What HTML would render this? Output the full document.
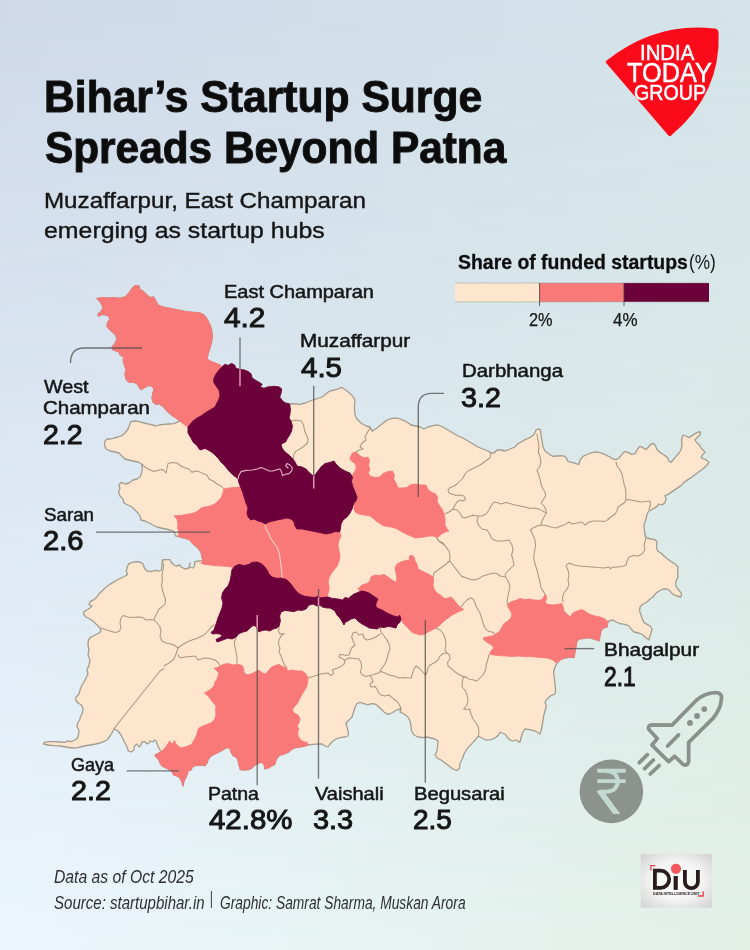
<!DOCTYPE html>
<html lang="en">
<head>
<meta charset="utf-8">
<title>Bihar's Startup Surge Spreads Beyond Patna</title>
<style>
html,body{margin:0;padding:0;}
body{width:750px;height:950px;overflow:hidden;font-family:"Liberation Sans",sans-serif;color:#161616;}
#page{position:relative;width:750px;height:950px;overflow:hidden;background:linear-gradient(to right,#cfd9ea,#d4e4e9);}
#bg2{position:absolute;left:0;top:0;width:750px;height:950px;background:linear-gradient(to right,#ebf6fd,#e2f0e6);
 -webkit-mask-image:linear-gradient(to bottom,rgba(0,0,0,0),rgba(0,0,0,1));mask-image:linear-gradient(to bottom,rgba(0,0,0,0),rgba(0,0,0,1));}
#art{position:absolute;left:0;top:0;width:750px;height:950px;}
.t{position:absolute;white-space:nowrap;line-height:1;transform-origin:0 0;margin:0;padding:0;}
.b{font-weight:bold;color:#0c0c0c;}
.r{font-weight:normal;}
.i{font-style:italic;color:#303030;}
</style>
</head>
<body>
<div id="page">
<div id="bg2"></div>
<svg id="art" width="750" height="950" viewBox="0 0 750 950">
<g id="map" stroke-linejoin="round" stroke-linecap="round">
<path d="M97.0,298.4 102.0,297.6 108.0,298.0 114.0,297.6 120.0,298.4 125.0,297.0 129.0,293.0 132.0,288.4 135.0,285.6 139.0,286.0 140.0,289.6 143.6,291.6 147.0,295.0 150.0,297.6 153.6,297.0 156.0,301.0 158.0,305.0 163.0,307.0 170.0,308.4 178.0,310.0 186.0,311.6 194.0,312.4 200.0,313.0 204.0,315.0 207.0,319.0 209.6,324.0 211.6,330.0 212.4,336.0 211.6,342.0 210.0,348.0 208.0,354.0 207.0,359.0 210.0,361.0 215.0,363.0 220.0,365.0 222.0,367.0 225.0,364.4 228.0,365.6 231.6,363.6 234.4,365.0 236.0,368.4 240.0,369.6 244.0,370.0 248.0,371.6 251.0,374.0 252.0,378.0 255.0,380.0 259.0,382.4 262.0,384.4 260.0,387.0 264.0,388.4 268.0,387.0 274.0,386.4 279.0,387.0 281.6,389.0 281.0,393.0 279.6,397.0 282.0,400.4 285.0,403.0 289.6,404.0 294.0,403.6 300.0,404.4 305.0,403.0 310.0,401.0 316.0,399.0 322.0,397.0 327.0,393.0 330.0,391.0 336.7,389.3 341.7,387.3 346.7,390.7 351.7,395.0 355.0,400.0 354.4,408.0 355.0,415.0 357.0,419.0 361.0,423.0 366.0,426.0 370.0,427.0 372.4,431.0 377.0,428.0 382.0,424.0 387.0,420.0 392.4,418.4 397.0,418.0 402.0,419.6 407.0,422.0 411.0,425.0 416.0,426.0 420.0,427.0 424.0,429.0 428.0,427.0 433.0,425.6 438.0,425.0 443.0,427.0 448.0,430.0 453.0,433.0 458.0,436.0 463.0,438.0 468.0,441.0 473.0,444.0 478.0,447.0 483.0,449.0 488.0,451.0 491.0,453.0 494.0,453.0 497.0,450.0 501.0,450.0 505.0,451.0 510.0,449.0 515.0,447.0 517.0,444.4 521.0,442.0 525.0,439.6 530.0,437.6 534.0,434.4 536.0,430.0 538.0,429.0 540.4,429.6 541.0,435.0 542.0,441.0 543.0,447.0 545.0,451.0 549.0,454.0 553.0,456.4 557.0,456.0 561.0,455.6 565.0,456.4 567.0,459.0 568.0,461.6 572.0,462.4 576.0,463.6 579.0,464.4 580.0,460.0 583.0,456.4 588.0,454.0 593.0,452.4 598.0,452.0 603.0,453.6 607.0,455.6 610.0,457.0 613.0,459.0 616.0,459.6 619.0,458.0 622.0,454.4 624.4,451.6 628.0,452.4 631.6,454.4 635.0,453.6 637.6,449.0 640.0,446.4 643.0,447.6 646.0,449.6 648.4,447.0 651.0,444.0 654.0,443.6 655.6,446.0 657.0,449.6 660.0,452.4 664.0,455.0 667.6,457.6 669.0,461.0 671.0,462.4 673.0,460.0 676.0,456.4 679.0,453.0 681.0,450.0 682.0,445.0 681.6,439.0 683.0,435.0 686.0,436.0 689.0,437.6 692.0,435.6 695.0,433.6 698.0,432.0 700.4,432.0 700.0,435.0 697.0,437.6 695.0,440.0 697.0,443.0 699.6,445.0 701.0,448.0 703.0,450.0 705.0,452.4 702.4,455.0 701.0,457.6 704.0,459.0 707.0,460.4 709.0,462.4 707.0,465.0 704.0,468.0 700.0,471.0 696.0,474.0 692.0,477.0 688.0,479.6 684.0,482.4 681.0,485.6 677.0,488.4 674.0,490.4 671.0,492.4 668.0,494.4 665.0,495.6 666.0,499.0 665.0,502.4 662.0,505.0 659.0,504.0 657.0,506.4 654.0,508.4 651.0,510.0 649.0,511.0 647.0,514.0 646.0,519.0 644.0,525.0 644.4,530.0 645.0,535.0 647.0,538.0 651.0,539.0 655.0,539.6 657.0,542.0 656.4,547.0 657.6,551.0 661.0,553.0 664.0,556.0 667.6,559.0 671.0,561.6 675.0,564.0 678.0,567.0 677.6,572.0 678.0,577.0 676.0,581.0 675.6,585.0 677.0,588.0 679.6,591.0 681.6,593.6 681.0,597.0 677.0,596.0 673.0,594.4 670.0,591.0 667.0,589.0 663.0,589.0 659.0,591.0 655.6,593.6 653.0,597.0 650.0,599.0 647.0,602.0 643.0,604.0 640.0,607.0 639.6,611.0 641.0,615.0 642.4,619.0 644.0,622.4 647.0,624.4 650.0,626.0 652.0,629.0 651.0,633.0 649.6,637.0 649.0,640.0 646.0,638.0 643.0,635.0 639.0,633.0 634.0,632.0 631.0,629.0 629.0,626.0 625.0,624.4 620.0,623.6 616.0,622.0 613.0,620.0 609.0,621.0 608.0,622.0 607.0,627.0 603.0,628.0 601.0,631.0 600.0,636.0 599.0,641.0 594.0,639.0 589.0,637.6 584.0,638.4 579.0,639.0 577.0,641.0 576.0,646.0 575.0,652.0 574.0,657.6 570.0,657.0 565.0,658.0 560.0,660.0 557.0,663.0 555.0,667.0 553.6,672.0 554.4,678.0 555.0,684.0 555.6,690.0 555.0,694.0 551.0,695.6 547.0,699.0 545.0,702.0 546.4,706.0 545.0,711.0 543.6,716.0 543.0,721.0 542.0,726.0 541.0,731.0 540.0,734.0 537.0,732.0 533.0,730.4 529.0,729.6 525.0,729.0 522.4,733.0 521.0,738.0 520.0,742.4 516.0,740.0 513.0,741.0 510.0,740.0 507.0,737.0 505.0,734.0 502.0,733.0 500.0,732.4 498.0,735.6 495.0,738.0 491.0,739.6 486.0,740.0 482.0,738.0 478.4,736.0 476.0,739.0 473.0,742.4 470.0,745.6 467.0,749.0 464.0,754.0 462.4,759.0 460.0,763.0 459.6,768.0 457.0,770.4 453.0,769.0 449.0,766.0 445.0,763.0 441.0,760.0 437.0,758.0 435.0,755.0 437.0,751.0 437.6,746.0 438.0,741.0 435.0,739.0 431.0,738.0 427.0,737.0 423.0,737.6 418.0,737.0 414.0,735.0 411.6,731.0 411.0,726.0 410.0,721.0 408.0,717.0 404.0,714.0 400.0,712.0 401.0,709.0 398.0,709.6 395.0,711.0 391.6,713.0 388.0,714.4 384.0,712.0 381.0,709.0 378.0,706.0 375.0,704.0 371.0,703.6 368.0,705.0 364.0,703.6 360.0,702.4 357.0,703.6 355.0,707.0 353.6,712.0 352.0,717.0 349.0,720.0 346.0,723.0 347.0,727.0 348.4,732.0 348.0,736.0 345.0,737.0 340.0,737.6 336.0,739.0 333.0,741.0 330.0,744.0 328.0,747.0 325.0,746.0 322.0,744.0 318.0,744.0 313.0,744.4 308.0,745.0 304.0,746.4 299.0,747.0 294.0,748.0 291.0,750.0 288.0,752.4 284.0,754.0 280.0,755.0 278.0,757.0 276.0,760.0 275.0,764.0 272.0,766.0 268.0,768.0 265.0,769.0 264.0,764.0 261.0,762.0 258.0,763.6 255.0,765.0 252.0,768.0 249.0,769.6 244.0,770.0 240.4,769.6 239.0,765.0 238.0,760.0 236.0,757.0 233.0,755.6 231.0,752.0 230.0,748.0 226.0,747.6 223.0,750.0 219.0,752.0 215.0,754.0 211.0,756.0 208.4,759.0 207.0,763.0 205.0,765.6 200.0,765.0 195.0,765.6 192.4,767.0 191.0,770.0 188.0,771.0 187.0,775.0 185.6,778.0 184.0,781.0 183.0,786.0 182.0,782.0 180.0,778.0 177.0,776.0 173.6,775.0 172.4,771.6 170.0,770.0 166.0,768.0 162.0,766.0 160.0,763.0 159.0,760.0 156.0,757.0 155.0,755.0 159.0,753.0 161.0,752.0 160.0,750.0 158.0,746.0 156.0,741.0 154.4,740.0 153.0,742.0 150.0,741.0 149.0,743.0 147.0,744.0 145.0,741.6 142.0,742.0 141.0,745.0 139.0,747.0 137.0,744.0 134.4,746.0 134.0,750.0 131.0,752.0 128.4,751.0 127.0,747.0 125.0,743.0 123.0,739.0 121.0,735.0 118.0,731.0 114.0,729.0 112.4,732.0 110.0,736.0 107.0,740.0 102.0,742.4 96.0,744.0 90.0,745.0 84.0,746.0 78.0,747.6 72.0,748.0 66.0,747.0 60.0,746.0 54.0,745.6 48.0,745.0 43.6,744.0 44.0,742.4 49.0,741.6 54.0,741.6 60.0,742.0 65.0,742.4 67.0,741.0 71.0,741.6 75.0,740.0 77.6,738.0 78.4,735.0 79.0,730.0 77.0,727.0 77.6,723.0 79.6,720.0 80.4,717.0 82.4,713.0 83.0,709.0 81.6,705.0 78.0,703.0 75.6,700.0 76.0,697.0 79.0,694.0 80.0,690.0 81.6,686.0 84.0,682.0 86.0,678.0 88.0,674.0 87.0,670.0 89.0,665.0 90.0,660.0 88.0,655.0 89.0,650.0 88.0,645.0 88.4,640.0 91.0,637.0 95.0,635.0 99.0,633.0 101.0,631.0 100.0,628.0 97.0,625.0 94.0,622.0 90.0,619.0 86.0,617.0 83.6,614.4 84.0,611.6 87.0,610.0 90.0,608.0 92.0,606.0 89.0,605.0 90.0,601.6 94.0,599.6 97.0,597.0 99.0,594.0 102.0,591.0 105.0,588.0 109.0,585.0 113.0,582.4 117.0,580.0 121.0,578.0 125.0,576.0 127.6,574.4 126.4,571.6 127.0,567.0 129.0,563.6 132.4,562.4 136.0,561.6 140.0,562.0 143.0,564.0 144.4,568.0 147.0,571.0 151.0,571.6 155.0,570.4 159.0,571.0 161.6,570.0 162.0,565.0 162.4,560.0 166.0,559.6 170.0,559.6 171.0,562.0 174.0,565.0 176.0,566.0 180.0,565.0 181.0,567.0 185.0,569.0 189.0,568.0 190.0,563.0 189.6,567.0 193.0,568.0 194.4,566.0 195.0,561.6 199.0,561.0 203.0,560.6 202.0,557.0 201.0,552.0 198.0,548.0 193.0,544.0 190.0,540.0 184.0,538.0 180.0,537.0 178.0,536.4 175.6,536.0 174.0,531.6 170.0,530.0 166.0,529.0 161.0,528.0 157.0,527.0 153.0,525.0 149.0,523.0 145.0,521.0 141.0,520.0 140.0,516.0 138.0,513.0 135.0,510.0 132.0,507.0 128.0,505.0 124.0,503.0 123.0,499.0 120.0,496.0 118.4,492.0 120.0,489.0 119.0,485.0 121.0,482.4 125.0,484.0 129.0,483.0 133.0,480.0 137.0,479.0 140.0,477.0 141.6,473.0 142.4,468.0 141.6,464.0 138.0,462.0 133.0,461.0 129.0,460.0 125.0,459.0 122.0,456.0 119.0,453.0 115.0,452.0 110.0,451.0 106.0,449.0 104.4,445.0 105.0,441.0 107.0,439.0 111.0,439.0 114.0,438.0 118.0,437.0 122.0,435.6 125.0,433.0 128.0,429.0 129.6,425.0 131.0,421.6 135.0,421.0 139.0,421.6 144.0,423.0 150.0,424.4 156.0,426.0 159.0,425.0 164.0,424.4 169.0,424.0 174.0,423.6 180.0,421.0 176.0,418.0 172.4,415.6 169.0,413.0 166.0,410.0 163.0,406.4 159.0,403.6 156.0,404.4 153.0,402.0 152.0,397.6 153.0,393.0 154.0,389.0 152.0,386.0 148.0,385.6 144.0,388.0 141.0,389.6 139.0,387.0 137.0,383.6 133.0,382.0 129.0,382.4 126.0,379.0 125.0,374.0 126.0,369.6 124.4,365.0 123.0,360.0 124.0,357.0 120.0,355.0 119.0,352.0 113.0,350.0 112.0,347.0 115.0,343.6 117.0,339.0 115.6,335.0 113.0,332.4 110.0,330.0 107.0,326.4 107.6,322.4 110.0,319.0 108.0,315.6 103.0,314.4 98.4,316.0 98.0,314.0 101.6,311.0 103.0,307.0 101.0,303.0 97.0,298.4Z" fill="#fde6cd" stroke="#a39c90" stroke-width="1.3"/>
<path d="M141.6,464.0 145.0,467.0 149.0,469.6 154.0,471.6 159.0,470.0 163.0,469.6 166.0,473.0 167.0,468.0 168.0,463.6 172.0,462.4 177.0,463.0 181.0,466.0 185.0,468.0 189.0,469.0 192.0,472.4 195.0,471.0 199.0,471.6 203.0,473.6 207.0,475.0 209.0,479.0 213.0,481.0 217.0,484.0 221.0,486.0 224.0,489.0 M291.0,421.0 296.0,420.0 301.0,421.0 303.6,425.0 304.4,430.0 306.0,434.0 308.0,439.0 307.6,443.0 304.0,446.0 300.0,449.0 296.0,451.0 294.0,454.0 293.0,459.0 M372.4,431.0 370.0,428.0 367.0,433.0 365.0,437.0 366.0,440.0 362.0,443.0 360.0,447.0 363.0,449.0 359.0,450.0 356.0,452.0 M490.0,458.0 487.0,460.0 483.0,463.0 480.0,465.0 476.0,467.0 472.0,469.0 468.0,471.0 465.0,474.0 463.0,478.0 460.0,481.0 457.0,484.0 454.0,486.0 450.0,487.6 448.0,490.0 449.0,493.0 452.0,494.0 456.0,495.6 460.0,495.0 464.0,496.0 465.6,499.0 463.0,501.0 460.0,500.0 457.0,502.0 455.0,505.0 453.0,509.0 449.0,512.0 445.0,514.0 M453.0,509.0 457.0,510.0 460.0,513.0 462.0,517.0 465.0,518.0 469.0,516.4 473.0,515.6 M437.0,538.0 439.0,541.0 443.0,543.0 446.0,547.0 448.0,550.0 M162.4,560.0 163.6,565.0 163.0,570.0 162.0,575.0 162.4,580.0 161.6,585.0 162.4,590.0 164.0,595.0 165.6,600.0 165.0,604.0 162.0,607.0 159.0,609.0 157.0,613.0 155.0,617.0 154.0,620.0 M101.0,628.0 105.0,629.6 110.0,631.0 115.0,632.4 119.0,631.6 121.0,628.0 120.0,623.0 121.0,618.0 123.0,615.6 128.0,617.0 133.0,617.6 138.0,617.0 143.0,617.6 146.0,620.0 150.0,619.6 154.0,620.0 M154.0,620.0 157.0,623.0 159.6,626.0 161.0,631.0 160.0,636.0 162.0,641.0 166.0,643.0 171.0,644.0 175.0,645.6 178.0,648.0 M178.0,648.0 176.0,654.0 174.0,659.0 169.0,663.0 164.0,666.0 M164.0,668.4 160.0,671.0 156.0,676.0 152.0,681.0 148.0,686.0 144.0,691.0 140.0,696.0 136.0,701.0 132.0,706.0 128.0,711.0 124.0,716.0 120.0,721.0 117.0,725.0 114.0,729.0 M178.0,648.0 182.0,645.0 187.0,642.0 192.0,640.0 198.0,638.0 204.0,635.0 208.0,631.0 211.0,627.0 214.0,625.0 M178.0,655.0 180.0,658.0 185.0,657.0 190.0,656.4 195.0,656.0 198.0,660.0 201.0,659.0 205.0,658.0 210.0,658.4 215.0,660.0 218.0,662.4 220.0,666.0 M236.0,638.0 234.4,642.0 235.0,647.0 236.0,652.0 237.0,658.0 237.0,664.0 M279.6,626.0 278.4,631.0 280.0,634.0 284.0,633.6 281.0,636.0 279.0,640.0 278.4,644.0 280.0,648.0 279.0,652.0 281.0,656.0 282.4,660.0 284.0,664.0 287.0,668.0 M308.0,678.0 313.0,676.4 318.0,675.0 323.0,673.6 328.0,673.0 331.0,675.6 333.6,673.6 332.4,670.0 336.0,668.4 340.0,667.0 344.0,664.4 345.0,660.4 342.0,658.4 339.0,657.0 340.0,654.4 344.0,655.0 M344.0,660.4 349.0,658.0 354.0,658.4 359.0,659.0 361.0,662.4 361.6,667.0 360.4,672.0 362.4,675.0 366.0,676.4 370.0,675.6 374.0,674.4 378.0,673.0 381.0,671.6 M381.0,671.6 385.0,673.0 389.0,675.0 394.0,676.0 399.0,678.0 404.0,677.6 409.0,678.0 411.0,678.0 M370.0,675.6 372.0,679.0 373.0,682.0 370.0,684.0 371.0,687.0 375.0,686.4 377.0,689.0 378.4,692.4 381.0,695.0 385.0,696.0 389.0,695.0 392.0,697.6 395.0,700.0 398.0,702.4 400.0,706.0 401.0,709.0 M437.0,539.0 439.6,542.0 443.0,544.0 446.0,547.0 449.0,551.0 450.0,556.0 449.6,561.0 446.0,564.0 442.0,567.0 438.0,570.0 434.0,573.0 433.0,577.0 M449.6,561.0 453.0,565.0 456.0,569.0 459.0,573.0 462.0,577.0 M436.0,628.0 440.0,630.0 443.0,633.0 445.0,638.0 446.0,644.0 445.0,650.0 447.0,653.0 M380.0,628.0 381.0,632.0 384.0,636.0 387.0,640.0 389.0,644.0 390.0,649.0 388.0,654.0 387.0,659.0 385.0,664.0 382.0,668.0 380.0,671.0 380.8,671.6 M380.0,634.0 376.0,637.0 371.0,639.0 367.0,640.0 364.0,638.0 363.0,634.0 359.0,635.0 356.0,632.0 353.0,633.0 351.6,637.0 353.0,641.0 355.0,645.0 351.6,648.0 350.0,652.0 349.0,655.0 345.0,655.6 M537.0,434.0 538.0,440.0 539.0,446.0 538.4,452.0 540.0,457.0 541.0,462.0 539.6,467.0 537.0,470.0 538.4,474.0 540.0,479.0 541.0,484.0 543.0,489.0 545.0,492.0 545.6,496.0 543.0,500.0 541.0,503.0 544.0,506.0 546.0,510.0 546.4,513.0 M491.0,453.0 490.0,458.0 M472.0,515.0 477.0,516.0 482.0,516.0 486.0,514.0 489.0,510.0 491.0,506.0 494.0,502.0 497.0,502.4 501.0,504.0 506.0,502.4 510.0,503.6 515.0,505.0 520.0,506.0 525.0,507.0 530.0,508.4 535.0,508.0 540.0,509.6 546.4,513.0 M546.4,513.0 544.0,517.0 542.0,521.0 541.0,525.0 537.0,526.0 533.0,528.0 530.4,530.0 533.0,535.0 535.0,540.0 M541.0,525.0 546.0,525.6 551.0,527.0 556.0,528.0 561.0,526.0 565.0,524.4 569.0,522.0 572.0,524.0 577.0,523.0 582.0,522.0 585.0,525.0 589.0,522.0 594.0,521.0 600.0,521.0 604.0,521.6 608.0,519.6 610.0,518.0 M478.0,517.0 477.0,521.0 479.0,526.0 482.0,529.0 487.0,530.0 489.6,534.0 492.0,539.0 497.0,541.0 503.0,541.0 509.0,540.0 M616.0,462.0 617.0,466.0 620.0,470.0 622.0,474.0 623.0,479.0 624.0,484.0 625.6,489.0 626.0,494.0 625.6,499.0 626.4,499.6 M626.4,499.6 631.0,500.0 636.0,501.0 641.0,502.0 646.0,501.6 650.0,501.0 650.4,505.0 649.0,510.0 M626.4,499.6 624.0,503.0 621.0,505.0 618.0,507.0 617.0,511.0 615.0,514.0 611.0,517.0 608.0,519.0 M509.0,540.0 512.0,545.0 513.0,550.0 511.6,555.0 513.0,560.0 514.0,565.0 511.0,568.0 508.0,571.0 505.0,574.0 505.6,577.0 M462.4,576.4 464.0,577.0 469.0,579.0 474.0,580.0 479.0,578.4 483.0,576.0 488.0,574.4 493.0,573.0 497.0,573.6 500.0,576.0 505.6,577.0 M505.6,577.0 508.0,581.0 510.0,586.0 509.0,591.0 508.0,596.0 507.0,601.0 507.6,604.0 M535.0,540.0 535.6,546.0 534.4,552.0 533.6,558.0 535.0,564.0 537.0,570.0 538.4,576.0 540.0,582.0 541.0,588.0 544.0,592.4 545.6,595.6 M610.0,567.0 604.0,568.0 598.0,567.6 592.0,567.0 586.0,566.4 580.0,566.0 574.0,565.0 569.0,563.0 566.0,565.6 568.0,570.0 569.0,575.0 568.0,580.0 569.0,585.0 567.0,589.0 564.0,593.0 562.4,597.0 563.0,602.0 M460.0,608.0 462.0,606.0 464.0,603.0 467.0,600.0 470.0,598.0 473.0,599.0 475.0,603.0 477.0,608.0 480.0,613.0 481.6,618.0 483.0,623.0 485.0,628.0 488.0,631.0 492.0,632.0 495.0,633.6 M645.0,535.0 645.6,540.0 644.0,545.0 645.0,550.0 642.0,554.0 638.0,556.0 633.0,555.6 629.0,557.0 627.0,561.0 626.0,565.0 622.0,566.4 617.0,567.0 612.0,567.6 610.0,569.0 M489.0,655.0 488.0,659.0 486.4,664.0 485.6,670.0 483.0,675.0 480.0,678.0 477.0,681.0 474.0,680.0 470.0,679.6 466.0,677.0 463.0,677.6 462.4,682.0 462.0,687.0 465.0,690.0 467.0,695.0 468.0,700.0 467.0,705.0 463.6,709.0 467.0,709.6 469.6,709.0 471.0,714.0 473.0,719.0 476.0,723.0 478.4,727.0 479.0,732.0 478.4,736.0 M466.0,677.0 462.0,676.0 458.0,674.0 454.0,671.0 451.0,668.4 448.0,666.0 447.6,662.0 450.0,659.0 449.6,655.0 447.0,653.0 443.0,653.6 440.0,656.0 438.0,660.0 434.0,663.0 430.0,665.0 428.0,668.0 427.0,672.0 425.6,675.0 M425.6,675.0 422.0,671.0 419.0,668.0 416.0,666.0 414.0,669.0 412.4,674.0 411.0,678.0" fill="none" stroke="#a8997f" stroke-width="1.05"/>
<path d="M203.0,560.6 202.0,557.0 201.0,552.0 198.0,548.0 193.0,544.0 190.0,540.0 184.0,538.0 180.0,537.0 178.0,536.4 179.0,532.0 177.6,528.0 178.0,524.0 177.0,519.0 174.0,516.0 179.0,515.6 184.0,515.0 189.0,514.0 194.0,513.0 198.0,511.0 201.0,508.0 205.0,507.0 210.0,506.0 215.0,504.0 218.0,501.0 221.0,498.0 223.0,493.0 224.0,489.0 229.0,488.0 234.0,487.6 240.0,487.0 250.0,495.0 300.0,510.0 332.0,522.0 339.6,532.0 341.0,536.0 339.0,540.0 338.0,545.0 339.0,551.0 340.0,556.0 339.0,561.0 337.0,566.0 334.0,570.0 331.0,574.0 329.0,578.0 328.0,582.0 329.0,586.0 329.0,590.0 327.6,595.0 328.0,598.0 300.0,602.0 270.0,588.0 245.0,576.0 232.0,570.0 232.0,567.0 227.0,566.4 222.0,566.0 216.0,565.6 210.0,565.0 205.0,564.4 201.0,563.2Z" fill="#f97978" stroke="#f97978" stroke-width="0.9"/>
<path d="M97.0,298.4 102.0,297.6 108.0,298.0 114.0,297.6 120.0,298.4 125.0,297.0 129.0,293.0 132.0,288.4 135.0,285.6 139.0,286.0 140.0,289.6 143.6,291.6 147.0,295.0 150.0,297.6 153.6,297.0 156.0,301.0 158.0,305.0 163.0,307.0 170.0,308.4 178.0,310.0 186.0,311.6 194.0,312.4 200.0,313.0 204.0,315.0 207.0,319.0 209.6,324.0 211.6,330.0 212.4,336.0 211.6,342.0 210.0,348.0 208.0,354.0 207.0,359.0 210.0,361.0 215.0,363.0 220.0,365.0 222.0,367.0 219.0,370.0 216.0,374.0 214.0,378.0 213.6,382.0 216.0,386.0 219.0,390.0 220.0,395.0 219.0,399.0 217.0,403.0 215.0,407.0 210.0,410.0 205.0,413.0 201.0,416.0 197.0,418.0 193.0,421.0 189.6,425.0 188.0,427.0 184.0,424.4 180.0,421.0 176.0,418.0 172.4,415.6 169.0,413.0 166.0,410.0 163.0,406.4 159.0,403.6 156.0,404.4 153.0,402.0 152.0,397.6 153.0,393.0 154.0,389.0 152.0,386.0 148.0,385.6 144.0,388.0 141.0,389.6 139.0,387.0 137.0,383.6 133.0,382.0 129.0,382.4 126.0,379.0 125.0,374.0 126.0,369.6 124.4,365.0 123.0,360.0 124.0,357.0 120.0,355.0 119.0,352.0 113.0,350.0 112.0,347.0 115.0,343.6 117.0,339.0 115.6,335.0 113.0,332.4 110.0,330.0 107.0,326.4 107.6,322.4 110.0,319.0 108.0,315.6 103.0,314.4 98.4,316.0 98.0,314.0 101.6,311.0 103.0,307.0 101.0,303.0 97.0,298.4Z" fill="#f97978" stroke="#f97978" stroke-width="0.9"/>
<path d="M308.0,745.0 304.0,746.4 299.0,747.0 294.0,748.0 291.0,750.0 288.0,752.4 284.0,754.0 280.0,755.0 278.0,757.0 276.0,760.0 275.0,764.0 272.0,766.0 268.0,768.0 265.0,769.0 264.0,764.0 261.0,762.0 258.0,763.6 255.0,765.0 252.0,768.0 249.0,769.6 244.0,770.0 240.4,769.6 239.0,765.0 238.0,760.0 236.0,757.0 233.0,755.6 231.0,752.0 230.0,748.0 226.0,747.6 223.0,750.0 219.0,752.0 215.0,754.0 211.0,756.0 208.4,759.0 207.0,763.0 205.0,765.6 200.0,765.0 195.0,765.6 192.4,767.0 191.0,770.0 188.0,771.0 187.0,775.0 185.6,778.0 184.0,781.0 183.0,786.0 182.0,782.0 180.0,778.0 177.0,776.0 173.6,775.0 172.4,771.6 170.0,770.0 166.0,768.0 162.0,766.0 160.0,763.0 159.0,760.0 156.0,757.0 155.0,755.0 159.0,753.0 162.0,751.0 165.0,748.0 168.0,744.0 169.6,741.0 171.0,743.0 173.0,744.0 174.4,740.4 176.0,744.0 178.0,746.0 181.0,748.0 185.0,747.0 189.0,745.6 192.0,744.0 194.0,740.0 196.4,736.0 197.6,731.0 199.0,728.0 203.0,726.0 207.0,724.4 211.0,723.0 214.4,720.0 216.0,715.0 215.6,710.0 216.0,706.0 213.6,703.0 211.0,700.0 209.0,697.0 207.0,695.0 204.4,693.0 208.0,691.0 211.0,689.0 214.0,686.0 215.0,682.0 217.6,678.0 219.0,673.0 216.0,670.0 214.0,668.4 219.0,667.0 223.0,664.4 228.0,663.6 233.0,665.0 238.0,664.4 242.4,665.6 243.6,669.0 244.0,672.4 247.0,675.0 251.0,674.0 255.0,672.0 259.0,670.0 262.0,673.0 266.0,674.0 268.0,671.0 271.0,667.6 275.0,665.6 279.0,664.4 282.0,666.4 286.0,667.6 288.0,671.0 292.0,670.0 297.0,671.0 302.0,671.0 306.0,674.0 308.0,678.0 307.6,683.0 306.0,688.0 303.6,692.0 301.0,696.0 299.0,700.0 297.0,704.0 294.0,707.0 292.4,710.0 294.0,713.0 298.0,715.0 300.0,719.0 299.0,723.0 297.0,726.0 299.0,729.0 297.6,732.0 298.0,736.0 300.0,739.0 303.0,741.6 307.0,742.4Z" fill="#f97978" stroke="#f97978" stroke-width="0.9"/>
<path d="M608.0,622.0 607.0,627.0 603.0,628.0 601.0,631.0 600.0,636.0 599.0,641.0 594.0,639.0 589.0,637.6 584.0,638.4 579.0,639.0 577.0,641.0 576.0,646.0 575.0,652.0 574.0,657.6 570.0,657.0 565.0,658.0 560.0,660.0 557.0,663.0 554.0,661.0 551.0,659.0 547.0,658.0 542.0,657.6 536.0,657.0 530.0,656.4 524.0,656.4 518.0,656.0 512.0,656.4 506.0,656.0 500.0,655.6 494.0,655.0 489.6,654.4 491.0,651.0 493.6,648.0 492.0,645.0 488.0,643.0 484.0,640.0 483.0,638.0 487.0,637.0 492.0,636.0 496.0,634.0 500.0,631.0 502.0,627.0 504.0,623.6 508.0,621.0 511.0,618.0 512.0,614.0 510.0,610.0 508.0,607.0 507.6,604.0 512.0,601.6 517.0,600.0 520.0,598.4 524.0,599.6 529.0,599.0 534.0,600.0 539.0,600.4 543.0,599.0 544.0,596.0 546.0,595.0 546.4,599.0 545.0,602.4 548.0,604.4 553.0,605.0 558.0,604.4 562.0,603.6 563.0,607.0 564.0,611.0 567.0,614.0 570.0,617.0 573.0,613.0 577.0,611.0 582.0,609.6 586.0,612.0 590.0,614.4 595.0,616.0 600.0,617.0 605.0,619.0Z" fill="#f97978" stroke="#f97978" stroke-width="0.9"/>
<path d="M350.0,458.0 352.4,453.0 356.0,452.0 360.0,456.0 365.0,458.0 368.0,457.0 369.6,461.0 368.4,465.0 370.0,470.0 368.0,473.0 370.0,476.0 375.0,477.6 380.0,477.0 383.0,473.6 388.0,471.6 392.4,471.0 394.4,475.0 393.6,479.0 396.0,483.0 398.0,488.0 402.0,488.0 407.0,487.6 410.0,485.0 415.0,484.0 421.0,485.0 426.0,485.0 427.6,489.0 431.0,492.0 435.6,494.0 437.6,497.0 437.0,501.0 439.0,505.0 442.0,509.0 444.0,514.0 445.0,519.0 445.0,525.0 447.0,529.0 449.0,531.0 445.0,532.0 441.0,534.4 437.0,538.0 434.0,536.0 429.0,536.0 424.0,537.0 419.0,537.6 415.0,538.0 411.0,536.0 407.0,534.4 403.0,532.4 399.0,530.0 395.0,528.0 391.0,527.0 387.0,526.4 383.0,525.6 380.0,523.6 376.0,521.0 373.0,518.0 369.0,515.6 364.0,515.0 359.0,514.0 355.6,512.4 354.0,509.0 354.4,504.0 357.0,499.0 356.0,494.0 354.0,490.0 352.4,485.0 353.0,480.0 352.0,476.0 354.4,472.0 356.4,468.0 355.6,464.0 353.0,462.0 350.4,460.0Z" fill="#f97978" stroke="#f97978" stroke-width="0.9"/>
<path d="M358.0,589.0 362.0,585.0 367.0,583.6 370.0,581.0 371.0,577.0 375.0,575.0 380.0,575.6 384.0,574.4 388.0,577.0 392.0,580.0 396.0,582.4 397.0,578.0 396.0,573.0 395.0,568.0 397.0,564.0 401.0,562.0 406.0,560.4 410.0,560.0 409.0,557.0 411.0,555.0 414.0,557.0 415.0,561.0 417.0,564.4 418.0,569.0 422.0,571.0 426.0,573.0 430.0,575.0 433.0,577.0 433.6,581.0 433.0,585.0 434.0,589.0 437.0,593.0 441.0,595.6 445.0,599.0 448.0,598.0 451.0,597.0 454.0,600.0 457.0,604.0 460.0,607.0 463.6,609.6 460.0,611.0 456.0,613.0 452.0,615.0 448.0,618.0 444.0,621.0 440.0,625.0 436.0,628.0 432.0,630.0 428.0,632.0 424.0,634.4 420.0,635.0 416.0,633.6 412.0,632.4 409.0,629.0 406.0,626.0 403.0,623.0 401.0,619.0 399.6,615.0 398.0,617.0 394.0,616.0 390.0,614.4 386.0,612.4 382.0,610.0 378.0,608.4 375.6,606.0 376.4,602.0 378.0,599.0 375.0,597.0 372.0,595.0 369.0,593.0 365.0,591.6 361.0,591.0Z" fill="#f97978" stroke="#f97978" stroke-width="0.9"/>
<path d="M222.0,367.0 225.0,364.4 228.0,365.6 231.6,363.6 234.4,365.0 236.0,368.4 240.0,369.6 244.0,370.0 248.0,371.6 251.0,374.0 252.0,378.0 255.0,380.0 259.0,382.4 262.0,384.4 260.0,387.0 264.0,388.4 268.0,387.0 274.0,386.4 279.0,387.0 281.6,389.0 281.0,393.0 279.6,397.0 282.0,400.4 285.0,403.0 289.6,404.0 290.4,409.0 290.0,414.0 289.0,418.0 291.0,421.0 292.4,426.0 291.6,431.0 289.6,435.0 287.0,439.0 285.6,442.0 281.0,444.0 282.0,448.0 285.0,452.0 289.0,455.0 293.0,459.0 295.0,462.0 297.0,466.0 302.0,467.0 306.0,469.0 309.0,472.4 312.0,475.0 314.0,476.4 315.0,475.0 318.0,471.0 321.0,467.0 325.0,463.6 330.0,462.4 334.0,461.0 336.0,464.0 340.0,468.0 345.0,471.0 350.0,473.0 352.4,477.0 351.6,482.0 353.0,487.0 355.0,492.0 357.0,497.0 356.4,500.0 353.6,504.0 352.0,509.0 350.0,513.0 347.0,517.0 343.0,520.0 341.0,524.0 340.4,529.0 339.6,532.0 335.0,531.6 331.0,533.0 326.0,534.0 322.0,533.0 317.0,532.0 312.0,531.0 307.0,530.0 302.0,529.0 297.0,529.0 295.0,526.0 294.0,522.0 291.0,519.0 287.0,518.0 282.0,519.0 277.0,520.0 273.0,521.0 269.0,522.0 265.0,524.0 262.0,522.0 258.0,521.0 254.0,519.0 251.0,520.0 248.0,517.0 247.0,513.0 248.0,508.0 246.0,503.0 244.4,498.0 243.0,493.0 241.0,488.0 239.0,483.0 238.0,479.0 239.0,480.0 237.0,478.0 233.0,475.0 229.0,471.0 225.0,466.0 221.0,462.0 218.0,458.0 214.0,454.0 210.0,451.0 205.0,448.4 200.0,450.0 197.0,445.6 193.0,442.0 191.0,438.0 188.0,433.0 188.0,427.0 189.6,425.0 193.0,421.0 197.0,418.0 201.0,416.0 205.0,413.0 210.0,410.0 215.0,407.0 217.0,403.0 219.0,399.0 220.0,395.0 219.0,390.0 216.0,386.0 213.6,382.0 214.0,378.0 216.0,374.0 219.0,370.0Z" fill="#6c003a" stroke="#6c003a" stroke-width="0.9"/>
<path d="M232.0,570.0 235.0,566.0 239.0,564.4 244.0,565.6 249.0,564.4 252.0,562.4 257.0,562.0 261.0,563.6 264.0,566.0 267.0,570.0 269.0,574.0 272.0,577.0 277.0,578.4 282.0,578.0 287.0,580.0 290.0,583.0 293.0,587.0 296.0,591.0 300.0,594.4 305.0,596.4 310.0,597.0 315.0,597.6 317.0,596.4 319.6,598.0 323.0,597.6 328.0,597.0 332.0,598.4 338.0,599.0 342.4,600.0 345.0,597.6 349.0,598.4 350.0,597.0 354.0,594.0 358.0,592.4 361.0,591.0 365.0,591.6 369.0,593.0 372.0,595.0 375.0,597.0 378.0,599.0 376.4,602.0 375.6,606.0 378.0,608.4 382.0,610.0 386.0,612.4 390.0,614.4 394.0,616.0 398.0,617.0 399.6,615.0 401.0,619.0 400.0,622.0 397.0,625.0 396.0,628.0 392.0,627.0 388.0,626.4 384.0,627.6 380.0,627.0 377.0,629.0 373.0,628.4 369.0,628.0 366.0,626.0 362.0,624.0 358.0,621.0 355.0,618.0 351.0,619.0 348.0,621.0 345.0,622.4 344.0,625.0 342.4,622.0 340.0,618.0 337.0,615.0 335.0,611.0 332.0,609.0 330.0,608.0 327.0,608.0 322.4,607.0 320.0,605.0 317.0,606.0 313.0,604.0 309.0,605.0 306.0,609.0 302.0,610.4 298.0,610.0 294.0,611.6 289.0,611.0 285.0,610.4 281.0,612.0 279.6,616.0 280.4,621.0 279.0,626.0 277.0,628.0 273.0,629.0 270.0,631.0 266.0,630.0 262.0,630.4 259.0,632.0 257.6,629.0 255.6,626.0 253.0,625.6 250.0,628.0 247.0,631.0 243.0,632.0 239.0,633.6 236.0,637.0 232.0,639.0 228.0,638.0 224.0,639.6 220.0,641.0 217.0,642.0 216.0,639.6 219.0,638.0 222.4,636.0 220.0,634.0 216.0,633.6 212.4,634.0 211.0,632.4 214.0,630.0 215.0,627.0 216.4,623.0 218.0,618.0 220.0,613.0 222.0,608.0 223.0,603.0 221.6,598.0 222.4,593.0 225.0,589.0 228.0,586.0 230.0,581.0 231.0,576.0Z" fill="#6c003a" stroke="#6c003a" stroke-width="0.9"/>
<path d="M238.0,479.0 239.0,475.0 241.0,471.6 246.0,470.4 252.0,470.0 257.0,469.0 261.0,467.6 265.0,469.0 269.0,471.0 273.0,471.0 277.0,469.6 280.0,469.0 281.6,472.0 282.4,475.6 285.0,474.4 289.0,473.6 291.6,471.0 292.4,468.0 290.0,465.0 287.0,463.6 285.6,465.6 288.0,468.0" fill="none" stroke="#e2b0c5" stroke-width="1.1"/>
<path d="M265.0,525.0 266.0,529.0 269.0,534.0 271.0,539.0 274.0,543.0 277.0,547.0 277.0,547.0 279.0,552.0 280.0,558.0 281.0,565.0 281.6,572.0 282.4,577.6" fill="none" stroke="#fdd0c8" stroke-width="1.1"/>
</g>
<clipPath id="darkclip"><path d="M222.0,367.0 225.0,364.4 228.0,365.6 231.6,363.6 234.4,365.0 236.0,368.4 240.0,369.6 244.0,370.0 248.0,371.6 251.0,374.0 252.0,378.0 255.0,380.0 259.0,382.4 262.0,384.4 260.0,387.0 264.0,388.4 268.0,387.0 274.0,386.4 279.0,387.0 281.6,389.0 281.0,393.0 279.6,397.0 282.0,400.4 285.0,403.0 289.6,404.0 290.4,409.0 290.0,414.0 289.0,418.0 291.0,421.0 292.4,426.0 291.6,431.0 289.6,435.0 287.0,439.0 285.6,442.0 281.0,444.0 282.0,448.0 285.0,452.0 289.0,455.0 293.0,459.0 295.0,462.0 297.0,466.0 302.0,467.0 306.0,469.0 309.0,472.4 312.0,475.0 314.0,476.4 315.0,475.0 318.0,471.0 321.0,467.0 325.0,463.6 330.0,462.4 334.0,461.0 336.0,464.0 340.0,468.0 345.0,471.0 350.0,473.0 352.4,477.0 351.6,482.0 353.0,487.0 355.0,492.0 357.0,497.0 356.4,500.0 353.6,504.0 352.0,509.0 350.0,513.0 347.0,517.0 343.0,520.0 341.0,524.0 340.4,529.0 339.6,532.0 335.0,531.6 331.0,533.0 326.0,534.0 322.0,533.0 317.0,532.0 312.0,531.0 307.0,530.0 302.0,529.0 297.0,529.0 295.0,526.0 294.0,522.0 291.0,519.0 287.0,518.0 282.0,519.0 277.0,520.0 273.0,521.0 269.0,522.0 265.0,524.0 262.0,522.0 258.0,521.0 254.0,519.0 251.0,520.0 248.0,517.0 247.0,513.0 248.0,508.0 246.0,503.0 244.4,498.0 243.0,493.0 241.0,488.0 239.0,483.0 238.0,479.0 239.0,480.0 237.0,478.0 233.0,475.0 229.0,471.0 225.0,466.0 221.0,462.0 218.0,458.0 214.0,454.0 210.0,451.0 205.0,448.4 200.0,450.0 197.0,445.6 193.0,442.0 191.0,438.0 188.0,433.0 188.0,427.0 189.6,425.0 193.0,421.0 197.0,418.0 201.0,416.0 205.0,413.0 210.0,410.0 215.0,407.0 217.0,403.0 219.0,399.0 220.0,395.0 219.0,390.0 216.0,386.0 213.6,382.0 214.0,378.0 216.0,374.0 219.0,370.0Z M232.0,570.0 235.0,566.0 239.0,564.4 244.0,565.6 249.0,564.4 252.0,562.4 257.0,562.0 261.0,563.6 264.0,566.0 267.0,570.0 269.0,574.0 272.0,577.0 277.0,578.4 282.0,578.0 287.0,580.0 290.0,583.0 293.0,587.0 296.0,591.0 300.0,594.4 305.0,596.4 310.0,597.0 315.0,597.6 317.0,596.4 319.6,598.0 323.0,597.6 328.0,597.0 332.0,598.4 338.0,599.0 342.4,600.0 345.0,597.6 349.0,598.4 350.0,597.0 354.0,594.0 358.0,592.4 361.0,591.0 365.0,591.6 369.0,593.0 372.0,595.0 375.0,597.0 378.0,599.0 376.4,602.0 375.6,606.0 378.0,608.4 382.0,610.0 386.0,612.4 390.0,614.4 394.0,616.0 398.0,617.0 399.6,615.0 401.0,619.0 400.0,622.0 397.0,625.0 396.0,628.0 392.0,627.0 388.0,626.4 384.0,627.6 380.0,627.0 377.0,629.0 373.0,628.4 369.0,628.0 366.0,626.0 362.0,624.0 358.0,621.0 355.0,618.0 351.0,619.0 348.0,621.0 345.0,622.4 344.0,625.0 342.4,622.0 340.0,618.0 337.0,615.0 335.0,611.0 332.0,609.0 330.0,608.0 327.0,608.0 322.4,607.0 320.0,605.0 317.0,606.0 313.0,604.0 309.0,605.0 306.0,609.0 302.0,610.4 298.0,610.0 294.0,611.6 289.0,611.0 285.0,610.4 281.0,612.0 279.6,616.0 280.4,621.0 279.0,626.0 277.0,628.0 273.0,629.0 270.0,631.0 266.0,630.0 262.0,630.4 259.0,632.0 257.6,629.0 255.6,626.0 253.0,625.6 250.0,628.0 247.0,631.0 243.0,632.0 239.0,633.6 236.0,637.0 232.0,639.0 228.0,638.0 224.0,639.6 220.0,641.0 217.0,642.0 216.0,639.6 219.0,638.0 222.4,636.0 220.0,634.0 216.0,633.6 212.4,634.0 211.0,632.4 214.0,630.0 215.0,627.0 216.4,623.0 218.0,618.0 220.0,613.0 222.0,608.0 223.0,603.0 221.6,598.0 222.4,593.0 225.0,589.0 228.0,586.0 230.0,581.0 231.0,576.0Z"/></clipPath>
<defs>
<radialGradient id="diug" cx="50%" cy="50%" r="65%"><stop offset="0" stop-color="#ffffff"/><stop offset="0.55" stop-color="#f4f4f4"/><stop offset="1" stop-color="#d6d6d6"/></radialGradient>
</defs>
<g id="logo">
<path d="M606,61 Q655,22 714,28.4 Q718.6,28.6 718.6,33 Q721,93 672.2,134.6 Q670,137.6 667.8,134.8 L606.4,63.2 Q605,61.6 606,61 Z" fill="#fb0a1a"/>
</g>
<g id="legend">
<rect x="455" y="283" width="84.6" height="18.9" fill="#fde6cd"/>
<rect x="539.5" y="283" width="84.6" height="18.9" fill="#f97978"/>
<rect x="624" y="283" width="85" height="18.9" fill="#6c003a"/>
<path d="M455,283H709M455,301.9H709" stroke="#8c8c8c" stroke-opacity="0.55" stroke-width="0.8" fill="none"/>
<path d="M539.6,283V306M624,283V306" stroke="#3c3c3c" stroke-opacity="0.8" stroke-width="1" fill="none"/>
</g>
<g id="leaders" fill="none" stroke="#4a4a4a" stroke-opacity="0.74" stroke-width="1.35">
<path d="M240,337.5V386.2"/>
<path d="M313.7,385.8V488.6"/>
<path d="M444,393.3H432Q418.3,393.3 418.3,407V497"/>
<path d="M142,348H84Q70.5,348 70.5,363"/>
<path d="M96,532.1H210"/>
<path d="M126.7,770.8H178.9"/>
<path d="M257.2,615V785.3"/>
<path d="M318.5,589V778.5"/>
<path d="M425.3,620V782.7"/>
<path d="M564.5,648.6H594.2"/>
</g>
<g id="leaders-on-dark" fill="none" stroke="#e78db4" stroke-width="1.5" clip-path="url(#darkclip)">
<path d="M240,337.5V386.2"/>
<path d="M313.7,385.8V488.6"/>
<path d="M257.2,615V785.3"/>
<path d="M318.5,589V778.5"/>
</g>
<g id="rocket" transform="translate(630,680) scale(0.133333)" fill="none" stroke="#8a918c" stroke-width="28" stroke-linecap="round" stroke-linejoin="round">
<path d="M315,338 L498,152 Q560,98 640,95 Q692,93 686,142 Q680,222 620,290 L440,468 L440,612 Q432,648 400,634 L335,572 L290,612 L165,488 L205,440 L142,372 Q130,338 165,337 Z"/>
<path d="M282,495 L364,412"/>
<path d="M70,620 L130,560 M110,665 L175,600 M152,705 L218,642"/>
<circle cx="450" cy="322" r="13" fill="#8a918c" stroke-width="18"/>
<circle cx="503" cy="270" r="13" fill="#8a918c" stroke-width="18"/>
<circle cx="557" cy="218" r="13" fill="#8a918c" stroke-width="18"/>
</g>
<g id="rupee" transform="translate(570,750) scale(0.1066667)">
<circle cx="388" cy="388" r="298" fill="#8c928d"/>
<path d="M255,195H522M255,292H522" stroke="#c3dad3" stroke-width="37" fill="none"/>
<path d="M330,195 C420,195 447,245 447,292 C447,345 415,392 330,392 L268,392" stroke="#c3dad3" stroke-width="39" fill="none"/>
<polygon points="248,386 306,374 472,600 406,600" fill="#c3dad3"/>
</g>
<g id="diu">
<rect x="640.8" y="853.9" width="71.2" height="53.8" fill="url(#diug)"/>
<path d="M654.9,870.7H660.6A8.6,8.6 0 0 1 660.6,887.9H654.9Z" fill="none" stroke="#2a1c1d" stroke-width="3.8" stroke-linejoin="miter"/>
<rect x="673.6" y="876" width="4.2" height="13.9" fill="#2a1c1d"/>
<path d="M684.9,869.9V881.7A6.5,6.5 0 0 0 697.9,881.7V869.9" fill="none" stroke="#2a1c1d" stroke-width="3.8"/>
<circle cx="676" cy="868.8" r="5.1" fill="#f2585d"/>
<path d="M655.2,865.6H650.9V870.4M697.9,896H703.2V891.2" fill="none" stroke="#e8413f" stroke-width="1.3"/>
<text x="653" y="894.6" font-family="Liberation Sans, sans-serif" font-weight="bold" font-size="3.5" fill="#2a1c1d" textLength="46.6" lengthAdjust="spacingAndGlyphs">DATA INTELLIGENCE UNIT</text>
</g>

</svg>
<div class="t b" style="left:43.54px;top:75.71px;font-size:43.60px;transform:scaleX(0.9778);-webkit-text-stroke:1.00px #161616;">Bihar’s Startup Surge</div>
<div class="t b" style="left:44.53px;top:126.71px;font-size:43.60px;transform:scaleX(0.9714);-webkit-text-stroke:1.00px #161616;">Spreads Beyond Patna</div>
<div class="t r" style="left:43.53px;top:190.40px;font-size:22.53px;transform:scaleX(1.0730);-webkit-text-stroke:0.40px #161616;">Muzaffarpur, East Champaran</div>
<div class="t r" style="left:44.30px;top:220.01px;font-size:22.53px;transform:scaleX(1.1051);-webkit-text-stroke:0.40px #161616;">emerging as startup hubs</div>
<div class="t b" style="left:457.85px;top:253.01px;font-size:19.62px;transform:scaleX(0.9907);-webkit-text-stroke:0.30px #161616;">Share of funded startups</div>
<div class="t r" style="left:688.62px;top:253.01px;font-size:19.62px;transform:scaleX(0.8803);">(%)</div>
<div class="t r" style="left:528.52px;top:310.81px;font-size:18.29px;transform:scaleX(0.8923);-webkit-text-stroke:0.25px #161616;">2%</div>
<div class="t r" style="left:612.62px;top:310.81px;font-size:18.29px;transform:scaleX(0.9267);-webkit-text-stroke:0.25px #161616;">4%</div>
<div class="t r" style="left:223.58px;top:282.71px;font-size:18.60px;transform:scaleX(1.0739);-webkit-text-stroke:0.50px #161616;">East Champaran</div>
<div class="t r" style="left:224.10px;top:303.81px;font-size:27.71px;transform:scaleX(1.0760);-webkit-text-stroke:1.00px #161616;">4.2</div>
<div class="t r" style="left:300.24px;top:332.41px;font-size:18.60px;transform:scaleX(1.1149);-webkit-text-stroke:0.50px #161616;">Muzaffarpur</div>
<div class="t r" style="left:301.10px;top:353.51px;font-size:27.71px;transform:scaleX(1.0655);-webkit-text-stroke:1.00px #161616;">4.5</div>
<div class="t r" style="left:461.85px;top:362.11px;font-size:18.60px;transform:scaleX(1.0975);-webkit-text-stroke:0.50px #161616;">Darbhanga</div>
<div class="t r" style="left:461.17px;top:383.51px;font-size:27.71px;transform:scaleX(1.0349);-webkit-text-stroke:1.00px #161616;">3.2</div>
<div class="t r" style="left:43.95px;top:378.11px;font-size:18.60px;transform:scaleX(1.0595);-webkit-text-stroke:0.50px #161616;">West</div>
<div class="t r" style="left:43.15px;top:399.41px;font-size:18.60px;transform:scaleX(1.1001);-webkit-text-stroke:0.50px #161616;">Champaran</div>
<div class="t r" style="left:42.67px;top:421.01px;font-size:27.71px;transform:scaleX(1.0295);-webkit-text-stroke:1.00px #161616;">2.2</div>
<div class="t r" style="left:43.95px;top:505.71px;font-size:18.60px;transform:scaleX(1.0086);-webkit-text-stroke:0.50px #161616;">Saran</div>
<div class="t r" style="left:43.15px;top:527.01px;font-size:27.71px;transform:scaleX(1.0511);-webkit-text-stroke:1.00px #161616;">2.6</div>
<div class="t r" style="left:71.45px;top:755.61px;font-size:18.60px;transform:scaleX(0.9712);-webkit-text-stroke:0.50px #161616;">Gaya</div>
<div class="t r" style="left:70.66px;top:776.90px;font-size:27.71px;transform:scaleX(1.0376);-webkit-text-stroke:1.00px #161616;">2.2</div>
<div class="t r" style="left:207.90px;top:785.00px;font-size:18.60px;transform:scaleX(1.0487);-webkit-text-stroke:0.50px #161616;">Patna</div>
<div class="t r" style="left:208.80px;top:806.01px;font-size:27.71px;transform:scaleX(1.0614);-webkit-text-stroke:1.00px #161616;">42.8%</div>
<div class="t r" style="left:314.65px;top:785.00px;font-size:18.60px;transform:scaleX(1.0766);-webkit-text-stroke:0.50px #161616;">Vaishali</div>
<div class="t r" style="left:313.26px;top:806.01px;font-size:27.71px;transform:scaleX(1.0430);-webkit-text-stroke:1.00px #161616;">3.3</div>
<div class="t r" style="left:413.67px;top:785.00px;font-size:18.60px;transform:scaleX(1.0846);-webkit-text-stroke:0.50px #161616;">Begusarai</div>
<div class="t r" style="left:412.79px;top:806.01px;font-size:27.71px;transform:scaleX(1.0107);-webkit-text-stroke:1.00px #161616;">2.5</div>
<div class="t r" style="left:604.43px;top:641.11px;font-size:18.60px;transform:scaleX(1.1223);-webkit-text-stroke:0.50px #161616;">Bhagalpur</div>
<div class="t r" style="left:603.98px;top:662.61px;font-size:27.71px;transform:scaleX(0.8247);-webkit-text-stroke:1.00px #161616;">2.1</div>
<div class="t i" style="left:54.40px;top:867.51px;font-size:18.17px;transform:scaleX(0.8658);">Data as of Oct 2025</div>
<div class="t i" style="left:54.40px;top:893.51px;font-size:18.17px;transform:scaleX(0.8279);">Source: startupbihar.in</div>
<div class="t r" style="left:210.43px;top:888.90px;font-size:18.10px;transform:scaleX(0.5667);">|</div>
<div class="t i" style="left:219.50px;top:893.51px;font-size:18.17px;transform:scaleX(0.7597);">Graphic: Samrat Sharma, Muskan Arora</div>
<div class="t r" style="left:639.98px;top:42.01px;font-size:21.80px;transform:scaleX(0.9347);color:#fff;-webkit-text-stroke:0.50px #fff;">INDIA</div>
<div class="t r" style="left:627.25px;top:59.01px;font-size:27.62px;transform:scaleX(0.9170);color:#fff;-webkit-text-stroke:0.50px #fff;">TODAY</div>
<div class="t r" style="left:633.75px;top:82.01px;font-size:21.80px;transform:scaleX(0.9019);color:#fff;-webkit-text-stroke:0.50px #fff;">GROUP</div>
</div>
</body>
</html>
